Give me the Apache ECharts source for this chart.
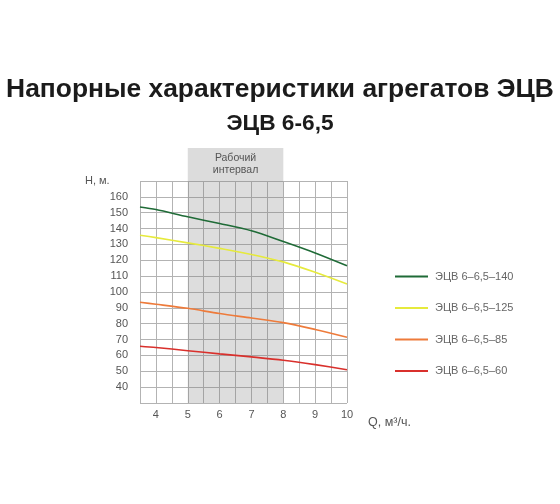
<!DOCTYPE html>
<html>
<head>
<meta charset="utf-8">
<script src="https://cdn.jsdelivr.net/npm/echarts@6/dist/echarts.min.js"></script>
<style>
  html, body { margin: 0; padding: 0; background: #fff; }
  #main { width: 560px; height: 504px; }
</style>
</head>
<body>
<div id="main"></div>
<script>
var myChart = echarts.init(document.getElementById('main'));

// подача, м3/ч
var flow = [3.5, 4, 5, 6, 7, 8, 9, 10];
// напор, м
var head140 = [153.6, 152, 147.4, 143.2, 138.6, 131.8, 124.6, 116.5];
var head125 = [135.8, 134.3, 131, 127.5, 123.7, 119, 112.4, 105];
var head85 = [93.5, 92.3, 89.7, 86.4, 83.6, 80.7, 76.4, 71.5];
var head60 = [65.8, 65, 63, 61, 59.1, 57, 54.2, 51];

var names = ['ЭЦВ 6–6,5–140', 'ЭЦВ 6–6,5–125', 'ЭЦВ 6–6,5–85', 'ЭЦВ 6–6,5–60'];
var colors = ['#1f6b37', '#e6ea3c', '#ee7b3b', '#d9302c'];
var workRange = [5, 8];

function pairs(ys) {
  return flow.map(function (x, i) {
    return [x, ys[i]];
  });
}

var font = 'Liberation Sans, Arial, sans-serif';

var series = [head140, head125, head85, head60].map(function (ys, i) {
  return {
    name: names[i],
    type: 'line',
    smooth: 0.3,
    symbol: 'none',
    data: pairs(ys),
    lineStyle: { color: colors[i], width: 1.6 },
    itemStyle: { color: colors[i] },
    z: 3
  };
});
series[0].markArea = {
  silent: true,
  itemStyle: { color: 'rgba(120,120,120,0.25)' },
  data: [[{ xAxis: workRange[0] }, { xAxis: workRange[1] }]]
};

var option = {
  animation: false,
  title: [
    {
      text: 'Напорные характеристики агрегатов ЭЦВ',
      left: 'center',
      top: 72,
      textStyle: { fontFamily: font, fontSize: 26.4, fontWeight: 'bold', color: '#1b1b1b' }
    },
    {
      text: 'ЭЦВ 6-6,5',
      left: 'center',
      top: 107,
      textStyle: { fontFamily: font, fontSize: 22.7, fontWeight: 'bold', color: '#1b1b1b' }
    }
  ],
  grid: { left: 140, right: 213, top: 181, bottom: 101 },
  legend: {
    orient: 'vertical',
    left: 395,
    top: 271,
    padding: 0,
    itemGap: 20.5,
    itemWidth: 33,
    itemHeight: 2,
    icon: 'rect',
    data: names,
    textStyle: { fontFamily: font, fontSize: 11, color: '#666', padding: [0, 0, 0, 2] }
  },
  xAxis: {
    type: 'value',
    min: 3.5,
    max: 10,
    interval: 0.5,
    axisLine: { show: false },
    axisTick: { show: false },
    axisLabel: {
      margin: 6,
      fontFamily: font,
      fontSize: 11,
      color: '#555',
      formatter: function (v) {
        return v % 1 === 0 ? String(v) : '';
      }
    },
    splitLine: { show: true, lineStyle: { color: '#b3b3b3', width: 1 } }
  },
  yAxis: {
    type: 'value',
    min: 30,
    max: 170,
    interval: 10,
    axisLine: { show: false },
    axisTick: { show: false },
    axisLabel: {
      margin: 12,
      fontFamily: font,
      fontSize: 11,
      color: '#555',
      formatter: function (v) {
        return v === 30 || v === 170 ? '' : String(v);
      }
    },
    splitLine: { show: true, lineStyle: { color: '#b3b3b3', width: 1 } }
  },
  series: series
};

myChart.setOption(option);

// шапка рабочего интервала над сеткой
var xa = myChart.convertToPixel({ xAxisIndex: 0 }, workRange[0]);
var xb = myChart.convertToPixel({ xAxisIndex: 0 }, workRange[1]);
var yTop = myChart.convertToPixel({ yAxisIndex: 0 }, 170);
myChart.setOption({
  graphic: [
    {
      type: 'rect',
      shape: { x: xa, y: 148, width: xb - xa, height: yTop - 148 },
      style: { fill: '#dcdcdc' },
      silent: true
    },
    {
      type: 'text',
      x: (xa + xb) / 2,
      y: 152,
      style: {
        text: 'Рабочий\nинтервал',
        align: 'center',
        fontFamily: font,
        fontSize: 10.5,
        lineHeight: 12,
        fill: '#555'
      }
    },
    {
      type: 'text',
      x: 85,
      y: 175,
      style: { text: 'H, м.', fontFamily: font, fontSize: 11, fill: '#555' }
    },
    {
      type: 'text',
      x: 368,
      y: 416,
      style: { text: 'Q, м³/ч.', fontFamily: font, fontSize: 12.5, fill: '#555' }
    }
  ]
});
</script>
</body>
</html>
